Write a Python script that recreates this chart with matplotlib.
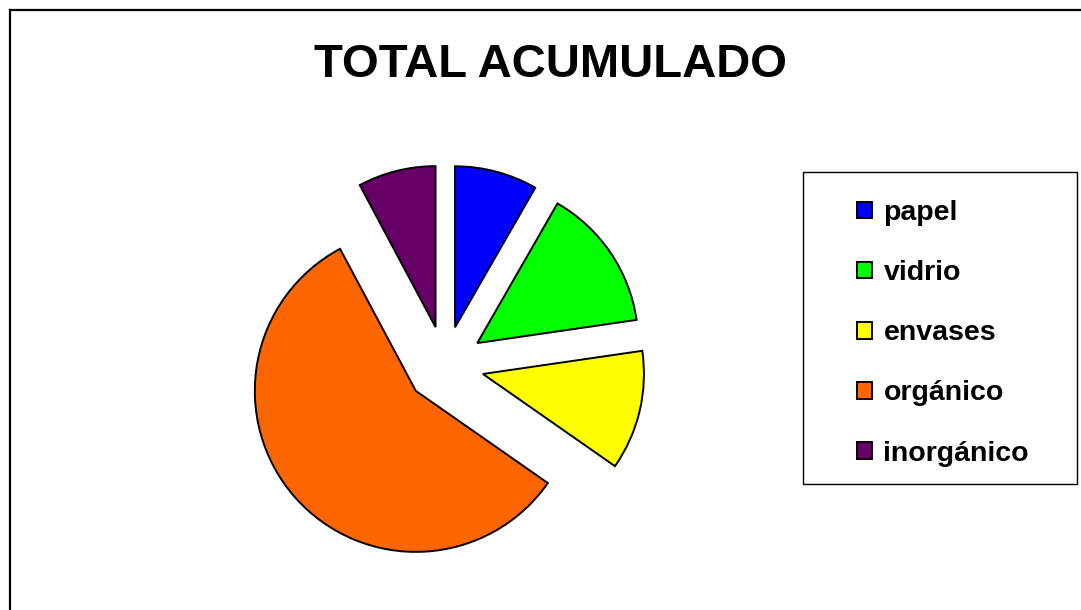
import matplotlib.pyplot as plt
from matplotlib.lines import Line2D
from matplotlib.patches import Rectangle

# Data (share of the total)
labels = ['papel', 'vidrio', 'envases', 'orgánico', 'inorgánico']
values = [8.3, 14.4, 12.0, 57.5, 7.8]
colors = ['#0000FF', '#00FF00', '#FFFF00', '#FF6600', '#660066']

plt.rcParams['font.family'] = ['Liberation Sans', 'DejaVu Sans']

W, H = 1081, 610
fig = plt.figure(figsize=(W / 100, H / 100), dpi=100)

# axes in pixel units so the pie lands where it should
ax = fig.add_axes([0, 0, 1, 1])
wedges, _ = ax.pie(values, colors=colors, startangle=90, counterclock=False,
                   explode=[39] * len(values), radius=161, center=(445, H - 365),
                   wedgeprops=dict(edgecolor='black', linewidth=1.4))
ax.set_xlim(0, W)
ax.set_ylim(0, H)
ax.set_aspect('auto')
ax.axis('off')

# chart area border (only top and left visible in the crop)
fig.add_artist(Line2D([10 / W, 10 / W], [0, 1 - 10 / H], color='black', lw=1.6,
                      transform=fig.transFigure))
fig.add_artist(Line2D([10 / W, 1], [1 - 10 / H, 1 - 10 / H], color='black', lw=1.6,
                      transform=fig.transFigure))

fig.text(550 / W, 1 - 65 / H, 'TOTAL ACUMULADO', ha='center', va='center',
         fontsize=34, fontweight='bold')

# legend box
fig.add_artist(Rectangle((803 / W, 1 - 484 / H), (1077 - 803) / W, (484 - 172) / H,
                         facecolor='white', edgecolor='black', lw=1.0,
                         transform=fig.transFigure))
leg = fig.legend(wedges, labels, loc='upper left',
                 bbox_to_anchor=(857 / W, 1 - 200 / H),
                 prop=dict(size=20.5, weight='bold'), frameon=False,
                 handlelength=0.53, handleheight=0.53, handletextpad=0.4,
                 labelspacing=1.2, borderpad=0, borderaxespad=0)

fig.savefig('out.png', dpi=100)
